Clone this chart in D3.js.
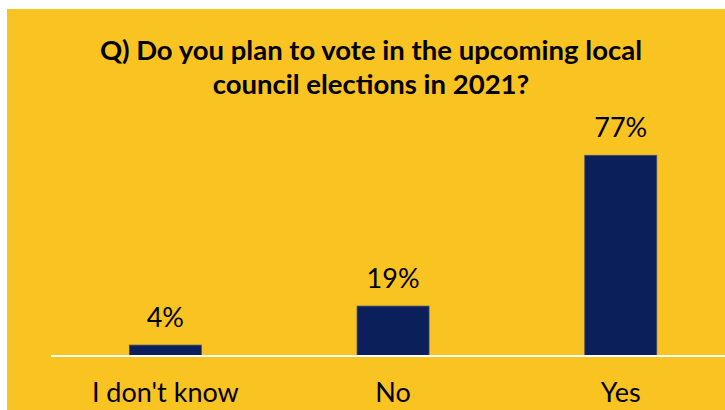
<!DOCTYPE html>
<html>
<head>
<meta charset="utf-8">
<script src="https://cdn.jsdelivr.net/npm/d3@7"></script>
<style>
  html, body { margin: 0; padding: 0; background: #ffffff; }
  svg { display: block; }
</style>
</head>
<body>
<svg id="chart" width="725" height="410"></svg>
<script>
// Survey responses
const categories = ["I don't know", "No", "Yes"];
const values = [4, 19, 77];
const titleLines = ["Q) Do you plan to vote in the upcoming local", "council elections in 2021?"];

const W = 725, H = 410;
const bg = "#F9C322";
const barColor = "#0B1F5A";
const font = "Lato, 'Open Sans', sans-serif";

const svg = d3.select("#chart");

// Panel background
svg.append("rect")
  .attr("x", 7).attr("y", 9)
  .attr("width", W - 7).attr("height", H - 9)
  .attr("fill", bg);

// Title
const title = svg.append("text")
  .attr("text-anchor", "middle")
  .attr("font-family", font)
  .attr("font-weight", 700)
  .attr("font-size", 27.5)
  .attr("fill", "#000");
titleLines.forEach((t, i) => {
  title.append("tspan")
    .attr("x", 371)
    .attr("y", 60 + i * 33.5)
    .text(t);
});

// Scales
const x = d3.scaleBand()
  .domain(categories)
  .range([51.5, 734.6])
  .paddingInner(0.684)
  .paddingOuter(0.342);

const y = d3.scaleLinear()
  .domain([0, 100])
  .range([355.5, 95.5]);

const data = categories.map((c, i) => ({ cat: c, val: values[i] }));

// Bars
svg.append("g").selectAll("rect")
  .data(data)
  .join("rect")
  .attr("x", d => x(d.cat))
  .attr("y", d => y(d.val))
  .attr("width", x.bandwidth())
  .attr("height", d => y(0) - y(d.val))
  .attr("fill", barColor)
  .attr("stroke", "#3d4c78")
  .attr("stroke-width", 0.8);

// Baseline
svg.append("line")
  .attr("x1", 51).attr("x2", W)
  .attr("y1", y(0) + 0.5).attr("y2", y(0) + 0.5)
  .attr("stroke", "#ffffff")
  .attr("stroke-width", 2);

// Value labels
svg.append("g").selectAll("text")
  .data(data)
  .join("text")
  .attr("x", d => x(d.cat) + x.bandwidth() / 2)
  .attr("y", d => y(d.val) - 18)
  .attr("text-anchor", "middle")
  .attr("font-family", font)
  .attr("font-size", 27)
  .attr("fill", "#000")
  .text(d => d.val + "%");

// Category labels
svg.append("g").selectAll("text")
  .data(data)
  .join("text")
  .attr("x", d => x(d.cat) + x.bandwidth() / 2)
  .attr("y", 401.5)
  .attr("text-anchor", "middle")
  .attr("font-family", font)
  .attr("font-size", 27)
  .attr("fill", "#000")
  .text(d => d.cat);
</script>
</body>
</html>
